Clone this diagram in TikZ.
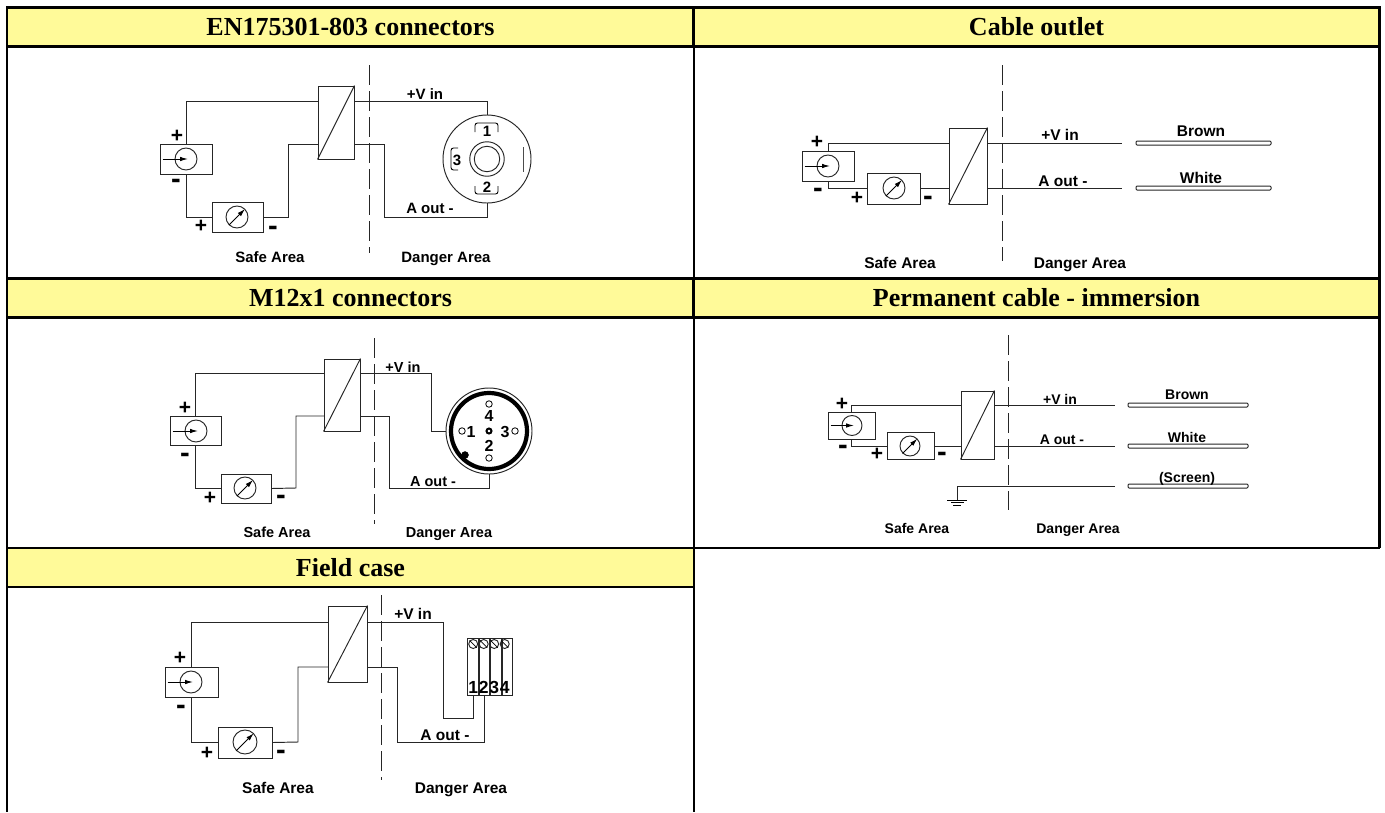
\documentclass[tikz,border=0pt]{standalone}
\usepackage{fontspec}
\usetikzlibrary{positioning,arrows.meta}
\setmainfont{Liberation Sans}
\newfontfamily\headfont{Liberation Serif}
\tikzset{
  wire/.style={line width=0.95pt,black!85},
  sepline/.style={line width=0.9pt,black!85,dash pattern=on 20pt off 6pt},
  needle/.style={line width=0.95pt,-{Latex[length=8pt,width=4.5pt]}},
  head/.style={draw,line width=2.8pt,outer sep=0pt,fill=yellow!40,minimum width=#1,minimum height=39pt,inner sep=0pt,font=\headfont\bfseries\fontsize{26}{28}\selectfont},
  cell/.style={line width=2.1pt},
  unit/.style={draw=black!85,line width=0.95pt,inner sep=0pt,minimum width=#1},
  dial/.style={draw=black!85,circle,line width=0.95pt,inner sep=0pt,minimum size=#1},
  lab/.style={inner sep=0pt,yshift=-1.5pt,text height=0.72em,text depth=0.2em,font=\bfseries\fontsize{#1}{#1}\selectfont},
  sign/.style={inner sep=0pt,font=\bfseries\fontsize{21}{21}\selectfont},
  dash sign/.style={inner sep=0pt,yshift=-4pt,font=\bfseries\fontsize{29}{29}\selectfont},
  cable/.style={draw=black!85,line width=1pt,fill=white,rounded corners=1pt,inner sep=0pt,minimum height=4pt,minimum width=#1},
  hole/.style={draw,circle,line width=0.8pt,inner sep=0pt,minimum size=6.5pt},
  slot/.style={line width=0.9pt,rounded corners=2.5pt},
}
\begin{document}
\begin{tikzpicture}[x=1pt,y=-1pt]
\useasboundingbox (0,0) rectangle (1385,812);

%table headers
\node [head=687pt] (headA) at (350.5,27) {EN175301-803 connectors};
\node [head=686pt] (headB) at (1036.5,27) {Cable outlet};
\node [head=687pt] (headC) at (350.5,298) {M12x1 connectors};
\node [head=686pt] (headD) at (1036.5,298) {Permanent cable - immersion};
\node [head=687pt] (headE) at (350.5,567.5) {Field case};

%table cell borders
\draw [cell] (headA.south west) -- (headC.north west);
\draw [cell] (headA.south east) -- (headC.north east);
\draw [cell] (headB.south east) -- (headD.north east);
\draw [cell] (headC.south west) -- (headE.north west);
\draw [cell] (headC.south east) -- (headE.north east);
\draw [cell] (headD.south east) -- (headD.south east |- headE.north);
\draw [cell] (headE.north east) -- (headD.south east |- headE.north);
\coordinate (baseA) at (7,812);
\coordinate (baseB) at (694,812);
\draw [cell] (headE.south west) -- (baseA);
\draw [cell] (headE.south east) -- (baseB);

%--- first panel
\coordinate (sepA1) at (369,65);
\coordinate (sepA2) at (369,253);
\draw [sepline] (sepA1) -- (sepA2);

\node [unit=36pt,minimum height=73pt] (convA) at (336,122.5) {};
\draw [wire] (convA.south west) -- (convA.north east);
\node [unit=52pt,minimum height=30pt] (srcA) at (186,159) {};
\node [dial=22pt] (srcdialA) at (186,159) {};
\draw [needle] ([xshift=-12pt]srcdialA.west) -- ([xshift=2pt]srcdialA.center);
\node [unit=51pt,minimum height=30pt] (mtrA) at (237.5,217) {};
\node [dial=22pt] (mtrdialA) at (237,217) {};
\draw [needle] (mtrdialA.225) -- (mtrdialA.45);

%connector body
\node [dial=88pt] (conA) at (487,159) {};
\node [dial=34.5pt] (ringA) at (487,159) {};
\node [dial=25.5pt] (coreA) at (487,159) {};
\draw [slot] (475,132) -- (475,123) -- (498,123) -- (498,132);
\draw [slot] (475,186) -- (475,194) -- (498,194) -- (498,186);
\draw [slot] (458,148) -- (451,148) -- (451,170) -- (458,170);
\draw [line width=1pt,black!70] (523,147) -- (523,172);
\node [lab=15] (pinA1) at (487,132) {1};
\node [lab=15] (pinA2) at (487,188) {2};
\node [lab=15] (pinA3) at (457,161) {3};

% wiring
\coordinate (topA) at (318,101);
\coordinate (lowA) at (318,144);
\coordinate (bendA) at (288,217);
\coordinate (retA) at (384,217);
\draw [wire] (srcA.north) |- (topA);
\draw [wire] (topA -| convA.east) -| (conA.north);
\draw [wire] (srcA.south) |- (mtrA.west);
\draw [wire] (mtrA.east) -- (bendA) |- (lowA);
\draw [wire] (lowA -| convA.east) -| (retA) -| (conA.south);

\node [lab=15] (vinA) at (425,95) {+V in};
\node [lab=15] (outA) at (430,209) {A out -};
\node [lab=15] (safeA) at (270,258) {Safe Area};
\node [lab=15] (dangA) at (446,258) {Danger Area};
\node [sign] (plusA1) at (177,136) {+};
\node [dash sign] (minusA1) at (176,180) {-};
\node [sign] (plusA2) at (201,226) {+};
\node [dash sign] (minusA2) at (273,227) {-};

%--- second panel
\coordinate (sepB1) at (1002,65);
\coordinate (sepB2) at (1002,261);
\draw [sepline] (sepB1) -- (sepB2);

\node [unit=38pt,minimum height=76pt] (convB) at (968,166) {};
\draw [wire] (convB.south west) -- (convB.north east);
\node [unit=52pt,minimum height=30pt] (srcB) at (828,166) {};
\node [dial=22pt] (srcdialB) at (828,166) {};
\draw [needle] ([xshift=-12pt]srcdialB.west) -- ([xshift=2pt]srcdialB.center);
\node [unit=53pt,minimum height=31pt] (mtrB) at (893.5,188.5) {};
\node [dial=22pt] (mtrdialB) at (894,188) {};
\draw [needle] (mtrdialB.225) -- (mtrdialB.45);

\node [cable=135pt] (brownB) at (1203.5,143) {};
\node [cable=135pt] (whiteB) at (1203.5,188) {};
\coordinate (endB1) at (1122,143);
\coordinate (endB2) at (1122,188);

% wiring
\coordinate (topB) at (949,143);
\coordinate (lowB) at (949,188);
\draw [wire] (srcB.north) |- (topB);
\draw [wire] (topB -| convB.east) -- (endB1);
\draw [wire] (srcB.south) |- (mtrB.west |- lowB);
\draw [wire] (mtrB.east |- lowB) -- (lowB);
\draw [wire] (lowB -| convB.east) -- (endB2);

\node [lab=15.5] (vinB) at (1060,136) {+V in};
\node [lab=15.5] (outB) at (1063,182) {A out -};
\node [lab=15.5] (brnB) at (1201,132) {Brown};
\node [lab=15.5] (whtB) at (1201,179) {White};
\node [lab=15.5] (safeB) at (900,264) {Safe Area};
\node [lab=15.5] (dangB) at (1080,264) {Danger Area};
\node [sign] (plusB1) at (817,142) {+};
\node [dash sign] (minusB1) at (818,189) {-};
\node [sign] (plusB2) at (857,198) {+};
\node [dash sign] (minusB2) at (928,197) {-};

%--- third panel
\coordinate (sepC1) at (374,338);
\coordinate (sepC2) at (374,524);
\draw [sepline] (sepC1) -- (sepC2);

\node [unit=36pt,minimum height=72pt] (convC) at (342,395) {};
\draw [wire] (convC.south west) -- (convC.north east);
\node [unit=51pt,minimum height=29pt] (srcC) at (195.5,430.5) {};
\node [dial=22pt] (srcdialC) at (196,431) {};
\draw [needle] ([xshift=-12pt]srcdialC.west) -- ([xshift=2pt]srcdialC.center);
\node [unit=50pt,minimum height=29pt] (mtrC) at (246,488.5) {};
\node [dial=22pt] (mtrdialC) at (245,488) {};
\draw [needle] (mtrdialC.225) -- (mtrdialC.45);

%connector body
\node [dial=86pt] (conC) at (489,431) {};
\node [draw,circle,line width=4.2pt,inner sep=0pt,minimum size=76pt] (ringC) at (489,431) {};
\node [draw,circle,fill=black,inner sep=0pt,minimum size=7pt] (keyC) at (465,455) {};
\node [hole] (holeC4) at (489,404) {};
\node [hole] (holeC1) at (462,431) {};
\node [hole] (holeC3) at (515,431) {};
\node [hole] (holeC2) at (489,458) {};
\node [draw,circle,line width=2pt,inner sep=0pt,minimum size=5pt] (holeC0) at (489,431) {};
\node [lab=16] (pinC4) at (489,417) {4};
\node [lab=16] (pinC1) at (471,433) {1};
\node [lab=16] (pinC3) at (505,433) {3};
\node [lab=16] (pinC2) at (489,447) {2};

% wiring
\coordinate (topC) at (324,373);
\coordinate (lowC) at (324,416);
\coordinate (bendC) at (296,488);
\coordinate (retC) at (389,488);
\coordinate (hookC) at (431,431);
\draw [wire] (srcC.north) |- (topC);
\draw [wire] (topC -| convC.east) -| (hookC) -- (conC.west);
\draw [wire] (srcC.south) |- (mtrC.west);
\draw [wire] (mtrC.east) -- (bendC) |- (lowC);
\draw [wire] (lowC -| convC.east) -| (retC) -| (conC.south);

\node [lab=14.5] (vinC) at (403,368) {+V in};
\node [lab=14.5] (outC) at (433,482) {A out -};
\node [lab=14.5] (safeC) at (277,533) {Safe Area};
\node [lab=14.5] (dangC) at (449,533) {Danger Area};
\node [sign] (plusC1) at (185,408) {+};
\node [dash sign] (minusC1) at (185,454) {-};
\node [sign] (plusC2) at (210,498) {+};
\node [dash sign] (minusC2) at (281,496) {-};

%--- fourth panel
\coordinate (sepD1) at (1008,335);
\coordinate (sepD2) at (1008,510);
\draw [sepline] (sepD1) -- (sepD2);

\node [unit=33pt,minimum height=68pt] (convD) at (977.5,425) {};
\draw [wire] (convD.south west) -- (convD.north east);
\node [unit=47pt,minimum height=27pt] (srcD) at (851.5,425.5) {};
\node [dial=20pt] (srcdialD) at (852,425.5) {};
\draw [needle] ([xshift=-11pt]srcdialD.west) -- ([xshift=2pt]srcdialD.center);
\node [unit=47pt,minimum height=27pt] (mtrD) at (910.5,445.5) {};
\node [dial=20pt] (mtrdialD) at (910,446) {};
\draw [needle] (mtrdialD.225) -- (mtrdialD.45);

\node [cable=120pt] (brownD) at (1188,405) {};
\node [cable=120pt] (whiteD) at (1188,446) {};
\node [cable=120pt] (screenD) at (1188,486) {};
\coordinate (endD1) at (1115,405);
\coordinate (endD2) at (1115,446);
\coordinate (endD3) at (1115,486);

% wiring
\coordinate (topD) at (961,405);
\coordinate (lowD) at (961,446);
\coordinate (earthD) at (957,500);
\draw [wire] (srcD.north) |- (topD);
\draw [wire] (topD -| convD.east) -- (endD1);
\draw [wire] (srcD.south) |- (mtrD.west |- lowD);
\draw [wire] (mtrD.east |- lowD) -- (lowD);
\draw [wire] (lowD -| convD.east) -- (endD2);
\draw [wire] (endD3) -| (earthD);

%ground symbol
\draw [line width=0.8pt] (947,500) -- (967,500);
\draw [line width=0.8pt] (951,502.5) -- (964,502.5);
\draw [line width=0.8pt] (953,505) -- (961,505);

\node [lab=14] (vinD) at (1060,400) {+V in};
\node [lab=14] (outD) at (1062,440) {A out -};
\node [lab=14] (brnD) at (1187,395) {Brown};
\node [lab=14] (whtD) at (1187,438) {White};
\node [lab=14] (scrD) at (1187,478) {(Screen)};
\node [lab=14] (safeD) at (917,529) {Safe Area};
\node [lab=14] (dangD) at (1078,529) {Danger Area};
\node [sign] (plusD1) at (842,404) {+};
\node [dash sign] (minusD1) at (843,446) {-};
\node [sign] (plusD2) at (877,454) {+};
\node [dash sign] (minusD2) at (942,453) {-};

%--- fifth panel
\coordinate (sepE1) at (381,595);
\coordinate (sepE2) at (381,780);
\draw [sepline] (sepE1) -- (sepE2);

\node [unit=39pt,minimum height=76pt] (convE) at (347.5,644) {};
\draw [wire] (convE.south west) -- (convE.north east);
\node [unit=53pt,minimum height=30pt] (srcE) at (191.5,682) {};
\node [dial=22pt] (srcdialE) at (191,682) {};
\draw [needle] ([xshift=-12pt]srcdialE.west) -- ([xshift=2pt]srcdialE.center);
\node [unit=54pt,minimum height=31pt] (mtrE) at (245,742.5) {};
\node [dial=24pt] (mtrdialE) at (245,742) {};
\draw [needle] (mtrdialE.225) -- (mtrdialE.45);

%terminal block
\node [unit=10.5pt,minimum height=57pt] (termE1) at (473.2,666.5) {};
\node [unit=10.5pt,minimum height=57pt,right=0pt of termE1] (termE2) {};
\node [unit=10.5pt,minimum height=57pt,right=0pt of termE2] (termE3) {};
\node [unit=10.5pt,minimum height=57pt,right=0pt of termE3] (termE4) {};
\node [dial=9pt] (screwE1) at (473.2,644) {};
\node [dial=9pt] (screwE2) at (483.7,644) {};
\node [dial=9pt] (screwE3) at (494.2,644) {};
\node [dial=9pt] (screwE4) at (504.7,644) {};
\draw [line width=0.7pt] (screwE1.135) -- (screwE1.315);
\draw [line width=0.7pt] (screwE2.135) -- (screwE2.315);
\draw [line width=0.7pt] (screwE3.135) -- (screwE3.315);
\draw [line width=0.7pt] (screwE4.135) -- (screwE4.315);
\node [lab=17.5] (pinE1) at (473.2,689) {1};
\node [lab=17.5] (pinE2) at (483.7,689) {2};
\node [lab=17.5] (pinE3) at (494.2,689) {3};
\node [lab=17.5] (pinE4) at (504.7,689) {4};

% wiring
\coordinate (topE) at (328,622);
\coordinate (lowE) at (328,667);
\coordinate (bendE) at (298,742);
\coordinate (retE) at (397,742);
\coordinate (hookE) at (443,718);
\draw [wire] (srcE.north) |- (topE);
\draw [wire] (topE -| convE.east) -| (hookE) -| (termE1.south);
\draw [wire] (srcE.south) |- (mtrE.west);
\draw [wire] (mtrE.east) -- (bendE) |- (lowE);
\draw [wire] (lowE -| convE.east) -| (retE) -| (termE2.south);

\node [lab=15.5] (vinE) at (413,615) {+V in};
\node [lab=15.5] (outE) at (445,736) {A out -};
\node [lab=15.5] (safeE) at (278,789) {Safe Area};
\node [lab=15.5] (dangE) at (461,789) {Danger Area};
\node [sign] (plusE1) at (180,658) {+};
\node [dash sign] (minusE1) at (181,706) {-};
\node [sign] (plusE2) at (207,753) {+};
\node [dash sign] (minusE2) at (281,751) {-};
\end{tikzpicture}
\end{document}
